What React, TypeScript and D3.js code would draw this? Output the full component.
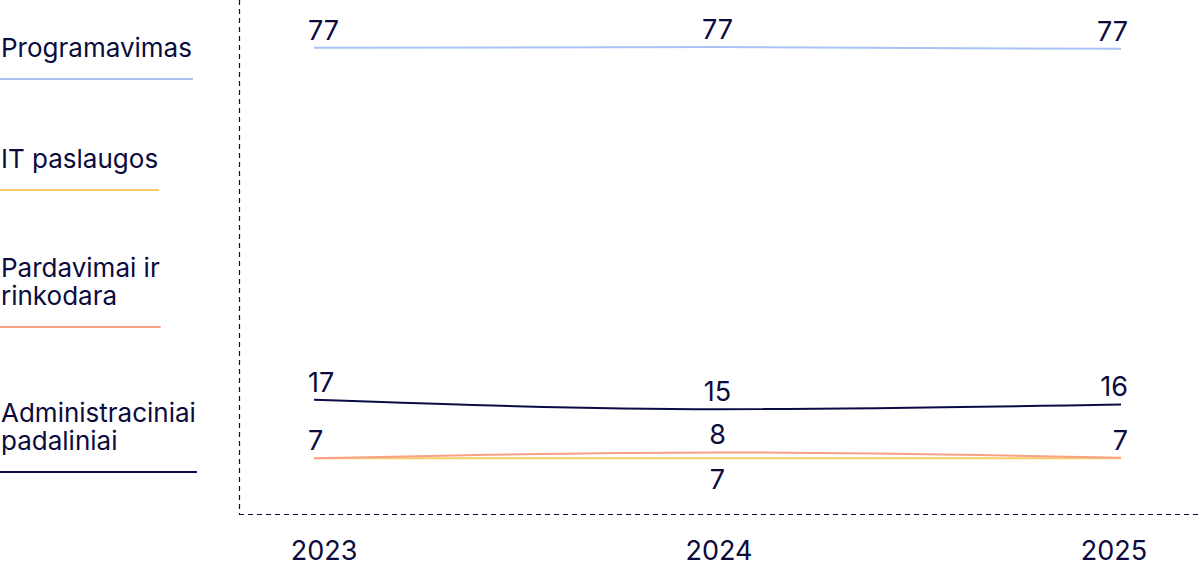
import React, { useEffect, useRef } from "react";
import * as d3 from "d3";

const years = ["2023", "2024", "2025"];
const seriesNames = ["Programavimas", "IT paslaugos", "Pardavimai ir rinkodara", "Administraciniai padaliniai"];
const legendLines = [["Programavimas"], ["IT paslaugos"], ["Pardavimai ir", "rinkodara"], ["Administraciniai", "padaliniai"]];
const programavimas = [77.2, 77.3, 77.0];
const itPaslaugos = [7.0, 7.0, 7.0];
const pardavimai = [7.0, 8.0, 7.1];
const administraciniai = [17.0, 15.4, 16.2];
const itLabelShown = [false, true, false];
const colors = ["#a9c4f2", "#f4cd66", "#f9a184", "#0c0c45"];

const W = 1200;
const H = 567;
const TEXT = "#0b0b3d";
const FONT = "Inter, 'Noto Sans', sans-serif";

export default function App() {
  const ref = useRef<SVGSVGElement | null>(null);

  useEffect(() => {
    document.body.style.margin = "0";
    const svg = d3.select(ref.current);
    svg.selectAll("*").remove();

    const x = d3.scalePoint<string>().domain(years).range([314, 1121]);
    const xLabel = d3.scalePoint<string>().domain(years).range([324, 1114]);
    const y = d3.scaleLinear().domain([0, 80]).range([499.2, 31.3]);

    // dashed frame
    svg.append("line").attr("x1", 239.5).attr("x2", 239.5).attr("y1", 0).attr("y2", 514)
      .attr("stroke", TEXT).attr("stroke-width", 1.2).attr("stroke-dasharray", "5,4");
    svg.append("line").attr("x1", 239).attr("x2", W).attr("y1", 514.5).attr("y2", 514.5)
      .attr("stroke", TEXT).attr("stroke-width", 1.2).attr("stroke-dasharray", "5,4");

    // year labels
    svg.append("g").selectAll("text").data(years).join("text")
      .attr("x", (d) => xLabel(d)!).attr("y", 560)
      .attr("text-anchor", "middle").attr("fill", TEXT)
      .attr("font-family", FONT).attr("font-size", 27).text((d) => d);

    const data = [programavimas, itPaslaugos, pardavimai, administraciniai];
    const line = d3.line<number>()
      .x((_, i) => x(years[i])!)
      .y((d) => y(d))
      .curve(d3.curveMonotoneX);

    data.forEach((vals, si) => {
      svg.append("path").attr("d", line(vals)!).attr("fill", "none")
        .attr("stroke", colors[si]).attr("stroke-width", 2).attr("stroke-linecap", "butt");
    });

    const fmt = d3.format(".0f");
    data.forEach((vals, si) => {
      vals.forEach((v, i) => {
        if (si === 1 && !itLabelShown[i]) return;
        const below = si === 1;
        const anchor = i === 0 ? "start" : i === years.length - 1 ? "end" : "middle";
        const dx = i === 0 ? -6 : i === years.length - 1 ? 7 : 0;
        svg.append("text")
          .attr("x", x(years[i])! + dx)
          .attr("y", below ? y(v) + 31 : y(v) - 8)
          .attr("text-anchor", anchor).attr("fill", TEXT)
          .attr("font-family", FONT).attr("font-size", 27)
          .text(fmt(v));
      });
    });

    // legend
    const baselines = [57, 168, 277, 422];
    const lh = 28;
    legendLines.forEach((lines, si) => {
      const g = svg.append("g").attr("aria-label", seriesNames[si]);
      let maxW = 0;
      lines.forEach((t, li) => {
        const te = g.append("text").attr("x", 1).attr("y", baselines[si] + li * lh)
          .attr("fill", TEXT).attr("font-family", FONT).attr("font-size", 26).text(t);
        const w = (te.node() as SVGTextElement).getComputedTextLength();
        if (w > maxW) maxW = w;
      });
      const uy = baselines[si] + (lines.length - 1) * lh + 22;
      g.append("line").attr("x1", 0).attr("x2", maxW + 2).attr("y1", uy).attr("y2", uy)
        .attr("stroke", colors[si]).attr("stroke-width", 2);
    });
  }, []);

  return <svg ref={ref} width={W} height={H} style={{ display: "block" }} />;
}
